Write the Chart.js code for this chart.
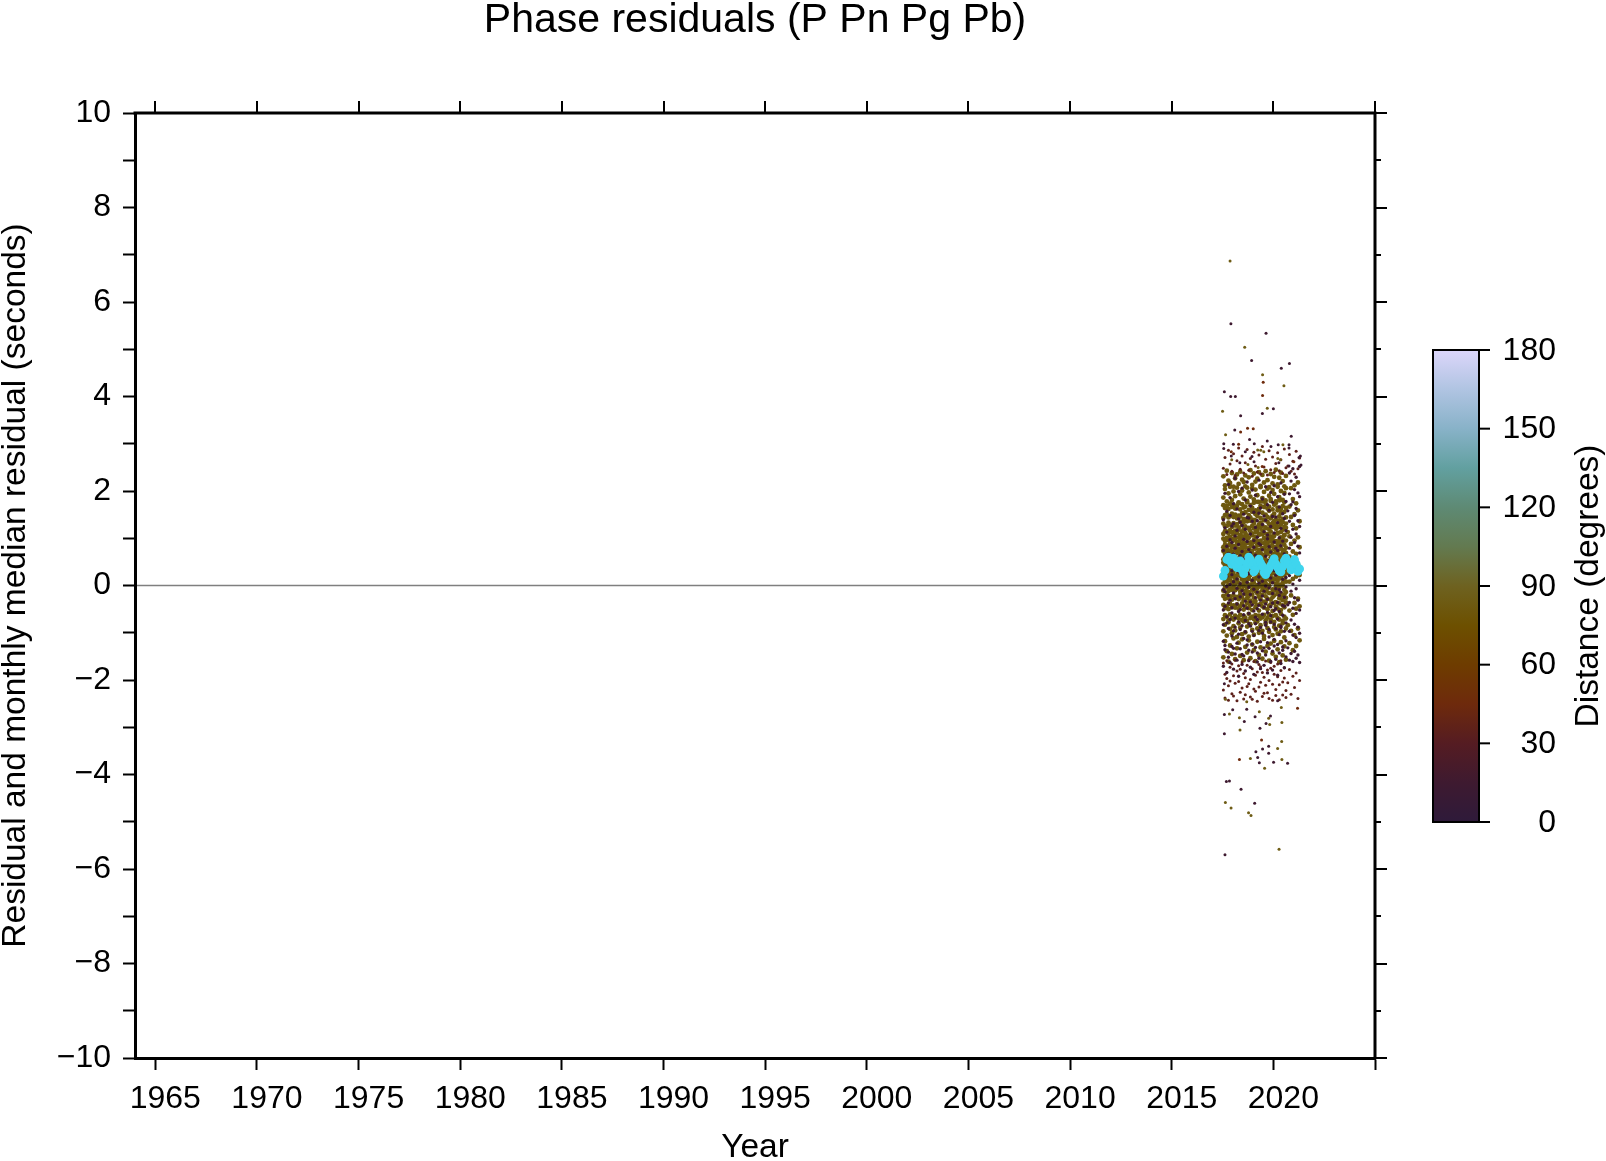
<!DOCTYPE html>
<html>
<head>
<meta charset="utf-8">
<script src="https://cdn.jsdelivr.net/npm/chart.js@4/dist/chart.umd.min.js"></script>
<style>
  html, body { margin: 0; padding: 0; background: #fff; }
  #wrap { width: 1606px; height: 1161px; }
</style>
</head>
<body>
<div id="wrap"><canvas id="chart" width="1606" height="1161"></canvas></div>
<script>
// --- data ---
const xTicks = [1965, 1970, 1975, 1980, 1985, 1990, 1995, 2000, 2005, 2010, 2015, 2020, 2025];
const xTickLabels = ['1965', '1970', '1975', '1980', '1985', '1990', '1995', '2000', '2005', '2010', '2015', '2020', ''];
const yTicks = [-10, -9, -8, -7, -6, -5, -4, -3, -2, -1, 0, 1, 2, 3, 4, 5, 6, 7, 8, 9, 10];
const yTickLabels = ['\u221210', '', '\u22128', '', '\u22126', '', '\u22124', '', '\u22122', '', '0', '', '2', '', '4', '', '6', '', '8', '', '10'];
const cbarTicks = [0, 30, 60, 90, 120, 150, 180];

// month centres, Jul 2017 .. Apr 2021
const monthYears = [
  2017.54, 2017.62, 2017.71, 2017.79, 2017.87, 2017.96,
  2018.04, 2018.12, 2018.21, 2018.29, 2018.37, 2018.46, 2018.54, 2018.62, 2018.71, 2018.79, 2018.87, 2018.96,
  2019.04, 2019.12, 2019.21, 2019.29, 2019.37, 2019.46, 2019.54, 2019.62, 2019.71, 2019.79, 2019.87, 2019.96,
  2020.04, 2020.12, 2020.21, 2020.29, 2020.37, 2020.46, 2020.54, 2020.62, 2020.71, 2020.79, 2020.87, 2020.96,
  2021.04, 2021.12, 2021.21, 2021.29
];

// monthly median residual (s)
const medianRes = [0.20, 0.32, 0.55, 0.60, 0.52, 0.45, 0.58, 0.47, 0.38, 0.44, 0.52, 0.33, 0.25, 0.36, 0.47, 0.60,
  0.55, 0.43, 0.29, 0.34, 0.49, 0.56, 0.48, 0.41, 0.28, 0.23, 0.31, 0.36, 0.42, 0.50, 0.57, 0.46, 0.38, 0.31,
  0.29, 0.40, 0.52, 0.58, 0.50, 0.44, 0.33, 0.39, 0.55, 0.46, 0.30, 0.35];

// residuals per month, far stations (olive)
const farDist = 82;
const farRes = [
  [-1.52,-0.97,-0.71,-0.41,-0.22,-0.11,0.04,0.23,0.31,0.48,0.55,0.73,0.81,0.99,1.09,1.31,1.43,1.70,1.86,2.31],
  [-1.18,-0.83,-0.63,-0.48,-0.28,-0.05,0.10,0.17,0.36,0.42,0.60,0.67,0.86,0.94,1.15,1.25,1.49,1.64,2.04,2.12],
  [-1.39,-1.06,-0.66,-0.43,-0.19,-0.03,0.09,0.22,0.29,0.47,0.59,0.72,0.79,1.01,1.14,1.26,1.51,1.69,1.78,2.43],
  [-1.61,-0.78,-0.74,-0.50,-0.27,-0.12,0.02,0.18,0.35,0.43,0.54,0.68,0.85,0.96,1.10,1.33,1.44,1.62,1.95,2.22],
  [-1.27,-0.92,-0.61,-0.39,-0.23,-0.06,0.11,0.25,0.32,0.50,0.61,0.74,0.88,1.03,1.17,1.29,1.47,1.73,2.09,2.17],
  [-1.45,-1.01,-0.69,-0.46,-0.30,-0.09,0.05,0.19,0.38,0.44,0.56,0.71,0.80,0.98,1.13,1.24,1.52,1.66,1.81,2.38],
  [-1.12,-0.86,-0.72,-0.42,-0.21,-0.02,0.08,0.24,0.30,0.49,0.58,0.66,0.84,0.95,1.08,1.32,1.45,1.71,1.99,2.09],
  [-1.56,-0.95,-0.64,-0.47,-0.26,-0.10,0.03,0.16,0.34,0.41,0.62,0.75,0.82,1.00,1.16,1.27,1.50,1.63,1.89,2.27],
  [-1.33,-1.09,-0.67,-0.40,-0.24,-0.07,0.12,0.21,0.37,0.46,0.53,0.69,0.87,0.93,1.11,1.30,1.42,1.68,2.07,2.35],
  [-1.21,-0.80,-0.70,-0.49,-0.29,-0.04,0.06,0.26,0.28,0.51,0.57,0.73,0.78,1.02,1.18,1.23,1.48,1.74,1.76,2.15],
  [-1.49,-0.89,-0.62,-0.44,-0.20,-0.13,0.01,0.20,0.33,0.45,0.63,0.70,0.89,0.97,1.07,1.35,1.46,1.61,1.93,2.41],
  [-1.14,-1.03,-0.73,-0.38,-0.25,-0.08,0.13,0.15,0.39,0.40,0.55,0.76,0.83,1.04,1.14,1.28,1.53,1.72,2.01,2.24],
  [-1.58,-0.76,-0.65,-0.51,-0.31,-0.01,0.07,0.23,0.27,0.52,0.60,0.67,0.86,0.92,1.19,1.34,1.41,1.65,1.84,2.19],
  [-1.30,-0.99,-0.68,-0.45,-0.18,-0.11,0.09,0.18,0.36,0.47,0.54,0.72,0.81,1.05,1.12,1.25,1.55,1.67,2.10,2.33],
  [-1.42,-0.87,-0.75,-0.37,-0.27,-0.05,0.04,0.27,0.31,0.43,0.64,0.68,0.90,0.99,1.06,1.36,1.40,1.76,1.79,2.07],
  [-1.16,-1.08,-0.60,-0.48,-0.22,-0.14,0.14,0.17,0.40,0.48,0.58,0.77,0.79,1.01,1.20,1.22,1.49,1.60,1.97,2.29],
  [-1.54,-0.82,-0.69,-0.42,-0.32,0.00,0.02,0.22,0.34,0.53,0.52,0.71,0.88,0.91,1.15,1.37,1.44,1.70,1.88,2.44],
  [-1.25,-0.94,-0.66,-0.52,-0.19,-0.09,0.10,0.25,0.29,0.44,0.65,0.74,0.84,1.06,1.09,1.26,1.56,1.64,2.06,2.13],
  [-1.37,-1.04,-0.71,-0.36,-0.26,-0.03,0.06,0.14,0.41,0.50,0.56,0.66,0.92,0.96,1.21,1.31,1.39,1.75,1.82,2.37],
  [-1.60,-0.79,-0.63,-0.46,-0.33,-0.12,0.15,0.28,0.32,0.42,0.61,0.78,0.80,1.03,1.13,1.38,1.51,1.59,2.03,2.20],
  [-1.19,-0.91,-0.76,-0.41,-0.17,-0.06,0.01,0.21,0.37,0.55,0.59,0.69,0.87,0.94,1.17,1.24,1.47,1.77,1.91,2.26],
  [-1.47,-1.00,-0.64,-0.53,-0.24,-0.15,0.11,0.19,0.26,0.46,0.53,0.75,0.85,1.07,1.10,1.29,1.57,1.62,1.77,2.40],
  [-1.31,-0.84,-0.70,-0.39,-0.29,-0.02,0.08,0.29,0.35,0.41,0.66,0.70,0.91,0.95,1.22,1.33,1.43,1.69,2.08,2.11],
  [-1.55,-0.96,-0.67,-0.44,-0.20,-0.10,0.03,0.16,0.42,0.49,0.57,0.79,0.78,1.08,1.16,1.27,1.54,1.78,1.85,2.34],
  [-1.13,-1.07,-0.62,-0.47,-0.34,-0.04,0.12,0.24,0.30,0.54,0.62,0.65,0.89,1.00,1.11,1.39,1.38,1.66,1.98,2.18],
  [-1.40,-0.81,-0.74,-0.35,-0.23,-0.13,0.05,0.20,0.38,0.43,0.55,0.73,0.82,0.93,1.23,1.21,1.50,1.73,1.80,2.42],
  [-1.28,-0.90,-0.68,-0.50,-0.28,-0.07,0.14,0.27,0.33,0.47,0.67,0.68,0.86,1.09,1.05,1.35,1.45,1.63,2.05,2.23],
  [-1.59,-0.98,-0.61,-0.43,-0.16,-0.01,0.00,0.18,0.39,0.52,0.51,0.76,0.93,0.97,1.19,1.30,1.58,1.67,1.90,2.08],
  [-1.23,-0.77,-0.73,-0.40,-0.30,-0.16,0.09,0.23,0.28,0.45,0.60,0.72,0.83,1.04,1.14,1.25,1.42,1.79,1.83,2.36],
  [-1.44,-1.05,-0.65,-0.54,-0.25,-0.08,0.07,0.15,0.36,0.50,0.58,0.67,0.90,0.98,1.24,1.32,1.48,1.61,2.02,2.16],
  [-1.17,-0.88,-0.77,-0.37,-0.21,-0.11,0.13,0.26,0.31,0.40,0.63,0.77,0.81,1.05,1.08,1.36,1.52,1.71,1.94,2.30],
  [-1.51,-0.93,-0.63,-0.45,-0.35,-0.03,0.04,0.22,0.40,0.56,0.54,0.71,0.94,0.92,1.20,1.28,1.40,1.74,1.78,2.45],
  [-1.35,-1.02,-0.69,-0.49,-0.18,-0.12,0.10,0.17,0.29,0.48,0.68,0.74,0.84,1.10,1.12,1.23,1.59,1.65,2.09,2.14],
  [-1.62,-0.85,-0.72,-0.38,-0.27,-0.05,0.02,0.30,0.34,0.44,0.56,0.64,0.88,0.96,1.25,1.37,1.46,1.80,1.87,2.28],
  [-1.20,-0.97,-0.60,-0.52,-0.22,-0.17,0.15,0.19,0.37,0.53,0.61,0.78,0.79,1.02,1.13,1.29,1.53,1.62,2.00,2.39],
  [-1.48,-0.80,-0.75,-0.42,-0.31,0.00,0.06,0.25,0.27,0.45,0.65,0.70,0.92,0.99,1.18,1.34,1.41,1.68,1.81,2.21],
  [-1.29,-1.10,-0.66,-0.46,-0.19,-0.09,0.11,0.21,0.41,0.51,0.52,0.75,0.86,1.06,1.07,1.24,1.56,1.76,1.96,2.10],
  [-1.57,-0.91,-0.70,-0.36,-0.26,-0.14,0.08,0.28,0.35,0.42,0.59,0.69,0.80,0.95,1.22,1.31,1.44,1.64,2.06,2.32],
  [-0.84,0.27,1.13],
  [-1.22,-0.53,0.08,0.61,1.04,1.67],
  [-0.96,-0.21,0.39,0.88,1.45,2.06],
  [-1.37,-0.62,0.14,0.72,1.28,1.83],
  [-1.05,-0.37,0.31,0.95,1.51,2.12],
  [-1.28,-0.49,0.19,0.67,1.21,1.74],
  [-0.91,-0.28,0.45,1.02,1.59,2.18],
  [-1.16,-0.44,0.22,0.81,1.36]
];

// residuals per month, near stations (dark purple)
const nearDist = 15;
const nearRes = [
  [-1.71,-1.18,-0.83,-0.52,-0.09,0.27,0.74,1.39], [-1.36,-1.27,-0.44,-0.13,0.36,0.61,1.22,1.95],
  [-1.84,-0.79,-0.66,-0.02,0.19,0.83,1.13,1.57], [-1.52,-1.41,-0.91,-0.37,-0.21,0.55,0.68,2.14],
  [-1.63,-0.72,-0.31,0.02,0.42,0.97,1.48,1.86], [-1.29,-1.07,-0.58,-0.47,0.23,0.31,0.91,1.26],
  [-1.77,-1.33,-0.96,-0.16,0.08,0.66,1.31,1.73], [-1.45,-0.88,-0.69,-0.28,0.51,0.79,1.05,2.27],
  [-1.58,-1.22,-0.39,-0.06,0.14,0.38,1.17,1.62], [-1.92,-1.03,-0.77,-0.55,0.29,0.87,1.41,1.99],
  [-1.34,-0.93,-0.51,-0.24,0.04,0.47,0.63,1.34], [-1.67,-1.46,-0.85,-0.11,0.33,0.72,1.27,2.06],
  [-1.49,-1.12,-0.62,-0.43,-0.18,0.58,0.98,1.51], [-1.81,-0.98,-0.74,-0.33,0.21,0.44,1.19,1.81],
  [-1.26,-1.15,-0.48,0.07,0.39,0.93,1.44,2.19], [-1.59,-1.37,-0.81,-0.59,-0.04,0.25,0.76,1.43],
  [-1.73,-0.86,-0.35,-0.19,0.46,0.69,1.09,1.68], [-1.41,-1.24,-0.97,-0.41,0.11,0.52,1.36,2.02],
  [-1.88,-1.06,-0.54,-0.08,0.26,0.81,0.95,1.55], [-1.31,-0.81,-0.67,-0.26,0.37,0.64,1.23,1.91],
  [-1.62,-1.43,-0.72,-0.49,-0.14,0.34,1.02,1.37], [-1.54,-0.95,-0.42,0.05,0.18,0.89,1.53,2.23],
  [-1.76,-1.19,-0.89,-0.31,0.43,0.57,0.86,1.64], [-1.38,-1.01,-0.61,-0.22,0.09,0.76,1.29,1.83],
  [-1.69,-1.32,-0.46,-0.12,0.31,0.48,1.14,1.47], [-1.47,-0.84,-0.78,-0.39,-0.01,0.62,1.38,2.09],
  [-1.85,-1.21,-0.57,-0.29,0.24,0.99,1.07,1.71], [-1.33,-1.09,-0.93,-0.05,0.41,0.53,0.82,1.59],
  [-1.61,-0.77,-0.64,-0.45,0.16,0.71,1.25,1.97], [-1.79,-1.39,-0.37,-0.17,0.06,0.45,1.46,1.76],
  [-1.28,-1.14,-0.82,-0.53,0.32,0.92,1.11,2.11], [-1.56,-0.91,-0.49,-0.07,0.22,0.59,0.79,1.45],
  [-1.90,-1.25,-0.71,-0.36,0.47,0.74,1.33,1.88], [-1.43,-1.04,-0.55,-0.21,-0.09,0.36,1.01,1.66],
  [-1.65,-0.89,-0.86,-0.14,0.28,0.84,1.21,2.17], [-1.37,-1.30,-0.63,-0.42,0.13,0.51,0.94,1.52],
  [-1.74,-0.97,-0.44,-0.25,0.38,0.67,1.42,1.93], [-1.51,-1.17,-0.79,-0.03,0.17,0.46,1.16,1.78],
  [-1.32,-0.41,0.62,1.58],
  [-1.58,-0.97,-0.36,0.21,0.79,1.36,1.94,2.38],
  [-1.44,-0.73,-0.12,0.47,1.02,1.71,2.21],
  [-1.61,-1.05,-0.48,0.03,0.58,1.19,1.77,2.47],
  [-1.39,-0.82,-0.26,0.36,0.91,1.48,2.03],
  [-1.54,-1.10,-0.59,-0.07,0.44,1.09,1.63,2.29],
  [-1.47,-0.88,-0.31,0.25,0.83,1.37,1.96],
  [-1.63,-1.01,-0.52,0.11,0.69,1.25,1.88,2.52]
];

// residuals per month, intermediate distances, mostly on the fringes of the cloud
const midDist = 35;
const midRes = [
  [-1.64,-2.21,2.48], [-2.38,-1.88,2.71], [-1.97,-1.59,2.35], [-2.12,-2.43,2.86], [-1.73,-2.02,2.57],
  [-2.29,-1.66,2.42], [-1.91,-2.34,2.79], [-1.58,-2.07,2.33], [-2.44,-1.81,2.64], [-2.03,-1.70,2.91],
  [-1.77,-2.26,2.46], [-2.17,-1.62,2.74], [-1.86,-2.40,2.38], [-2.31,-1.95,2.60], [-1.69,-2.14,2.88],
  [-2.08,-1.57,2.44], [-1.99,-2.36,2.69], [-2.41,-1.76,2.31], [-1.61,-2.19,2.82], [-2.24,-1.90,2.53],
  [-1.83,-2.45,2.40], [-2.15,-1.67,2.76], [-1.72,-2.05,2.36], [-2.35,-1.84,2.94], [-1.94,-2.28,2.51],
  [-1.60,-2.11,2.67], [-2.27,-1.79,2.34], [-2.01,-2.39,2.85], [-1.75,-1.63,2.45], [-2.43,-2.09,2.72],
  [-1.88,-1.71,2.39], [-2.20,-2.33,2.58], [-1.66,-1.93,2.81], [-2.10,-2.42,2.43], [-1.80,-1.59,2.66],
  [-2.32,-2.04,2.37], [-1.96,-1.74,2.89], [-2.22,-2.37,2.49],
  [-2.06,2.53], [-1.78,2.77], [-2.30,2.42], [-1.92,2.63], [-2.16,2.36], [-1.85,2.84], [-2.39,2.47], [-2.01,2.70]
];

// individual scattered picks away from the core
const outYears = [2017.87, 2017.91, 2019.64, 2018.59, 2018.93, 2020.39, 2020.79, 2019.47, 2019.50, 2020.52,
  2017.59, 2017.90, 2018.13, 2019.47, 2017.50, 2018.39, 2019.70, 2020.00, 2019.46, 2018.10,
  2018.39, 2018.73, 2019.01, 2017.65, 2020.88, 2017.56, 2018.03, 2018.29, 2018.83, 2019.06,
  2019.70, 2020.24, 2020.47, 2020.77, 2020.77, 2017.56, 2017.93, 2018.62, 2019.23, 2019.38,
  2019.88, 2019.53, 2017.93, 2018.95, 2021.33, 2021.26, 2020.22, 2020.35, 2021.01, 2017.95,
  2019.05, 2018.35, 2018.75, 2019.25, 2019.45, 2020.27, 2020.77, 2021.36,
  2017.59, 2017.64, 2017.59, 2017.84, 2018.00, 2018.69, 2018.69, 2018.57, 2018.33, 2019.10,
  2019.31, 2019.77, 2019.86, 2019.64, 2019.82, 2020.42, 2020.39, 2021.19, 2020.21, 2019.34,
  2018.36, 2017.59, 2019.42, 2020.41, 2019.77, 2019.47, 2020.21, 2019.14, 2018.33, 2018.87,
  2019.23, 2019.31, 2020.01, 2020.42, 2020.70, 2019.57, 2019.77, 2017.69, 2017.84, 2018.41,
  2017.64, 2017.92, 2019.08, 2018.78, 2018.90, 2017.62, 2020.28];
const outRes = [6.87, 5.54, 5.34, 5.04, 4.76, 4.60, 4.70, 4.46, 4.30, 4.23,
  4.10, 4.00, 4.00, 4.02, 3.69, 3.59, 3.75, 3.74, 3.64, 3.29,
  3.25, 3.33, 3.32, 3.19, 3.16, 3.00, 2.99, 2.99, 3.09, 3.00,
  3.06, 2.98, 2.98, 2.98, 2.91, 2.90, 2.83, 2.83, 2.87, 2.86,
  2.94, 2.83, 2.74, 2.73, 2.74, 2.71, 2.69, 2.66, 2.62, 2.66,
  2.62, 2.60, 2.56, 2.50, 2.52, 2.60, 2.53, 2.55,
  -2.08, -2.41, -2.73, -2.72, -2.63, -2.46, -2.62, -2.88, -2.80, -2.78,
  -2.67, -2.81, -2.76, -2.92, -2.94, -2.90, -2.58, -2.60, -2.44, -3.02,
  -3.06, -3.14, -3.27, -3.30, -3.40, -3.46, -3.45, -3.52, -3.68, -3.66,
  -3.64, -3.75, -3.74, -3.68, -3.76, -3.87, -3.55, -4.15, -4.14, -4.31,
  -4.59, -4.71, -4.61, -4.81, -4.87, -5.70, -5.58];
const outDist = [85, 15, 15, 85, 15, 15, 15, 85, 45, 85,
  15, 15, 15, 45, 85, 15, 85, 15, 15, 15,
  45, 45, 45, 85, 15, 15, 15, 45, 15, 15,
  15, 15, 85, 15, 15, 15, 45, 15, 85, 85,
  15, 85, 15, 15, 15, 15, 85, 85, 45, 85,
  15, 15, 85, 85, 45, 15, 15, 15,
  15, 85, 15, 85, 15, 85, 15, 15, 85, 15,
  85, 85, 15, 15, 85, 85, 85, 45, 15, 15,
  85, 15, 45, 85, 15, 15, 85, 15, 45, 85,
  15, 15, 15, 85, 15, 85, 15, 15, 15, 15,
  85, 85, 15, 85, 85, 15, 85];

// --- styling ---
const FONT = '"Liberation Sans", Arial, Helvetica, sans-serif';
const cmapStops = [
  [0, [46, 26, 58]], [15, [62, 26, 48]], [30, [85, 28, 34]], [45, [110, 42, 12]], [60, [110, 60, 0]],
  [75, [109, 80, 0]], [90, [110, 98, 32]], [105, [99, 122, 80]], [120, [94, 138, 116]], [135, [98, 160, 160]],
  [150, [136, 178, 200]], [165, [176, 196, 226]], [180, [220, 214, 250]]
];
const CBAR = { left: 1433, right: 1479, top: 350, bottom: 822 };

function distColor(d) {
  for (let i = 1; i < cmapStops.length; i++) {
    const [d1, c1] = cmapStops[i];
    const [d0, c0] = cmapStops[i - 1];
    if (d <= d1) {
      const t = (d - d0) / (d1 - d0);
      const c = c0.map((v, k) => Math.round(v + (c1[k] - v) * t));
      return `rgb(${c[0]},${c[1]},${c[2]})`;
    }
  }
  const c = cmapStops[cmapStops.length - 1][1];
  return `rgb(${c[0]},${c[1]},${c[2]})`;
}

const byMonth = rows => rows.flatMap((row, i) => row.map(v => ({ x: monthYears[i], y: v })));

const decor = {
  id: 'decor',
  afterDatasetsDraw(chart) {
    const { ctx, chartArea: a, scales: { y } } = chart;
    const y0 = y.getPixelForValue(0);
    ctx.save();
    ctx.strokeStyle = 'rgba(0,0,0,0.5)';
    ctx.lineWidth = 1.5;
    ctx.beginPath();
    ctx.moveTo(a.left, y0);
    ctx.lineTo(a.right, y0);
    ctx.stroke();
    ctx.restore();
  },
  afterDraw(chart) {
    const { ctx, chartArea: a, scales: { x, y } } = chart;
    const line = (x1, y1, x2, y2) => { ctx.beginPath(); ctx.moveTo(x1, y1); ctx.lineTo(x2, y2); ctx.stroke(); };
    ctx.save();
    ctx.strokeStyle = '#000';
    ctx.fillStyle = '#000';

    // top and right frame
    ctx.lineWidth = 3;
    ctx.beginPath();
    ctx.moveTo(a.left - 1.5, a.top);
    ctx.lineTo(a.right, a.top);
    ctx.lineTo(a.right, a.bottom + 1.5);
    ctx.stroke();

    ctx.lineWidth = 2;
    xTicks.forEach(v => {
      const px = Math.round(x.getPixelForValue(v));
      line(px, a.top, px, a.top - 12);
    });
    yTicks.forEach((v, i) => {
      const py = Math.round(y.getPixelForValue(v));
      line(a.right, py, a.right + (yTickLabels[i] ? 12 : 6), py);
    });

    // titles
    ctx.textAlign = 'center';
    ctx.textBaseline = 'alphabetic';
    ctx.font = `41px ${FONT}`;
    ctx.fillText('Phase residuals (P Pn Pg Pb)', (a.left + a.right) / 2, 32);
    ctx.font = `33.5px ${FONT}`;
    ctx.fillText('Year', (a.left + a.right) / 2, 1157);

    ctx.save();
    ctx.translate(25, (a.top + a.bottom) / 2);
    ctx.rotate(-Math.PI / 2);
    ctx.fillText('Residual and monthly median residual (seconds)', 0, 0);
    ctx.restore();

    // colour bar
    const g = ctx.createLinearGradient(0, CBAR.bottom, 0, CBAR.top);
    cmapStops.forEach(([d]) => g.addColorStop(d / 180, distColor(d)));
    ctx.fillStyle = g;
    ctx.fillRect(CBAR.left, CBAR.top, CBAR.right - CBAR.left, CBAR.bottom - CBAR.top);
    ctx.lineWidth = 2;
    ctx.strokeRect(CBAR.left, CBAR.top, CBAR.right - CBAR.left, CBAR.bottom - CBAR.top);

    ctx.fillStyle = '#000';
    ctx.font = `32px ${FONT}`;
    ctx.textAlign = 'right';
    ctx.textBaseline = 'middle';
    cbarTicks.forEach(v => {
      const py = CBAR.bottom - (v / 180) * (CBAR.bottom - CBAR.top);
      line(CBAR.right, py, CBAR.right + 11, py);
      ctx.fillText(String(v), 1556, py + 1);
    });

    ctx.save();
    ctx.translate(1598, (CBAR.top + CBAR.bottom) / 2);
    ctx.rotate(-Math.PI / 2);
    ctx.font = `33.5px ${FONT}`;
    ctx.textAlign = 'center';
    ctx.textBaseline = 'alphabetic';
    ctx.fillText('Distance (degrees)', 0, 0);
    ctx.restore();

    ctx.restore();
  }
};

const tickFont = { family: FONT, size: 32 };
const dotStyle = { pointRadius: 1.5, pointHoverRadius: 0, borderWidth: 0, pointBorderWidth: 0 };

new Chart(document.getElementById('chart'), {
  type: 'scatter',
  data: {
    datasets: [
      { label: 'monthly median', data: monthYears.map((x, i) => ({ x, y: medianRes[i] })),
        backgroundColor: '#3fd5ee', pointRadius: 4.4, pointHoverRadius: 0, borderWidth: 0, order: 0 },
      { label: 'scattered', data: outYears.map((x, i) => ({ x, y: outRes[i] })),
        backgroundColor: outDist.map(distColor), ...dotStyle, order: 1 },
      { label: 'near', data: byMonth(nearRes), backgroundColor: distColor(nearDist), ...dotStyle,
        pointRadius: 1.7, order: 2 },
      { label: 'mid', data: byMonth(midRes), backgroundColor: distColor(midDist), ...dotStyle, order: 3 },
      { label: 'far', data: byMonth(farRes), backgroundColor: distColor(farDist), ...dotStyle,
        pointRadius: 2.4, order: 4 }
    ]
  },
  options: {
    responsive: false,
    animation: false,
    events: [],
    layout: { padding: { top: 113, right: 231, left: 0, bottom: 0 } },
    plugins: { legend: { display: false }, tooltip: { enabled: false }, title: { display: false } },
    scales: {
      x: {
        type: 'linear', position: 'bottom', min: 1964, max: 2025,
        afterBuildTicks: s => { s.ticks = xTicks.map(v => ({ value: v })); },
        afterFit: s => { s.height = 103; },
        ticks: { callback: (v, i) => xTickLabels[i], font: tickFont, color: '#000', padding: 10,
                 labelOffset: 10, autoSkip: false, maxRotation: 0, minRotation: 0 },
        grid: { drawOnChartArea: false, drawTicks: true, tickLength: 12, tickWidth: 2, tickColor: '#000' },
        border: { display: true, color: '#000', width: 3 }
      },
      y: {
        type: 'linear', position: 'left', min: -10, max: 10,
        afterBuildTicks: s => { s.ticks = yTicks.map(v => ({ value: v })); },
        afterFit: s => { s.width = 135; },
        ticks: { callback: (v, i) => yTickLabels[i], font: tickFont, color: '#000', padding: 12, autoSkip: false },
        grid: { drawOnChartArea: false, drawTicks: true, tickLength: 12, tickWidth: 2, tickColor: '#000' },
        border: { display: true, color: '#000', width: 3 }
      }
    }
  },
  plugins: [decor]
});
</script>
</body>
</html>
